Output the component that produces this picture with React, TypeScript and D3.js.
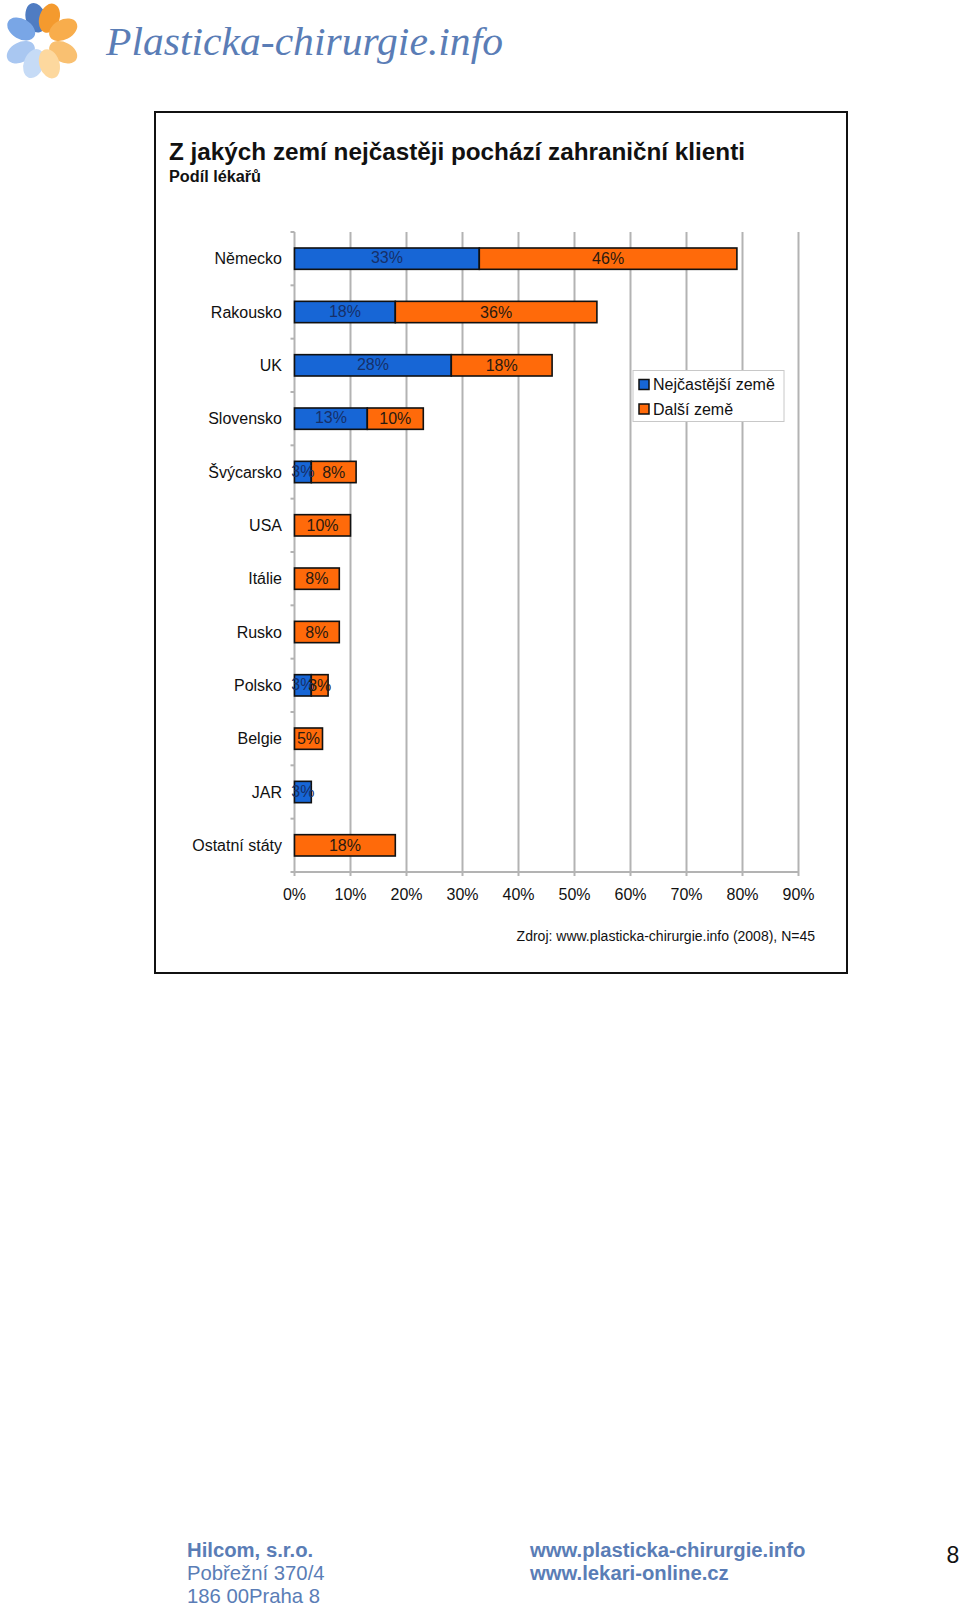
import React from "react";
import * as d3 from "d3";

const categories = ["Německo", "Rakousko", "UK", "Slovensko", "Švýcarsko", "USA", "Itálie", "Rusko", "Polsko", "Belgie", "JAR", "Ostatní státy"];
const nejcastejsi = [33, 18, 28, 13, 3, 0, 0, 0, 3, 0, 3, 0];
const dalsi = [46, 36, 18, 10, 8, 10, 8, 8, 3, 5, 0, 18];
const xTicks = [0, 10, 20, 30, 40, 50, 60, 70, 80, 90];
const seriesNames = ["Nejčastější země", "Další země"];

const BLUE = "#1766d6";
const ORANGE = "#ff6a0a";
const FONT = "'Liberation Sans', Arial, Helvetica, sans-serif";
const LOGO_BLUE = "#5a7db6";

const petals = [
  { a: -105, c: "#4f7cc2" },
  { a: -72, c: "#f49a2e" },
  { a: -150, c: "#79a6e6" },
  { a: -28, c: "#f8ad4c" },
  { a: 152, c: "#a9c7f1" },
  { a: 28, c: "#f9c071" },
  { a: 110, c: "#c6dbf6" },
  { a: 72, c: "#fdd89e" },
];

export default function App() {
  const x = d3.scaleLinear().domain([0, 90]).range([294.5, 798.5]);
  const y = d3.scaleBand<string>().domain(categories).range([232, 872]).paddingInner(0.6).paddingOuter(0.3);
  const step = y.step();
  const bw = y.bandwidth();
  const plotTop = 232;
  const plotBottom = 872;

  return (
    <svg width={960} height={1609} style={{ position: "absolute", left: 0, top: 0, background: "#fff" }}>
      <rect x={0} y={0} width={960} height={1609} fill="#fff" />
      {/* logo */}
      <g transform="translate(42,41)">
        {petals.map((p, i) => (
          <ellipse key={i} cx={0} cy={0} rx={15} ry={10} fill={p.c}
            transform={`rotate(${p.a}) translate(24,0)`} />
        ))}
      </g>
      <text x={106} y={55} fontFamily="'Liberation Serif', 'DejaVu Serif', serif" fontStyle="italic"
        fontSize={40} fill={LOGO_BLUE} textLength={397} lengthAdjust="spacingAndGlyphs">Plasticka-chirurgie.info</text>

      {/* frame */}
      <rect x={155} y={112} width={692} height={861} fill="#fff" stroke="#111" strokeWidth={2} />
      <text x={169} y={160} fontFamily={FONT} fontWeight="bold" fontSize={24} fill="#111"
        textLength={576} lengthAdjust="spacingAndGlyphs">Z jakých zemí nejčastěji pochází zahraniční klienti</text>
      <text x={169} y={182} fontFamily={FONT} fontWeight="bold" fontSize={16} fill="#111"
        textLength={92} lengthAdjust="spacingAndGlyphs">Podíl lékařů</text>

      {/* gridlines */}
      {xTicks.map((t) => (
        <g key={t}>
          <line x1={x(t)} x2={x(t)} y1={plotTop} y2={plotBottom + 4} stroke="#b3b3b3" strokeWidth={2} />
          <text x={x(t)} y={900} textAnchor="middle" fontFamily={FONT} fontSize={16} fill="#111">{t}%</text>
        </g>
      ))}
      <line x1={x(0) - 4} x2={x(90)} y1={plotBottom} y2={plotBottom} stroke="#b3b3b3" strokeWidth={2} />
      {categories.map((c, i) => (
        <line key={"t" + i} x1={x(0) - 4} x2={x(0)} y1={plotTop + i * step} y2={plotTop + i * step} stroke="#b3b3b3" strokeWidth={2} />
      ))}

      {/* bars */}
      {categories.map((c, i) => {
        const y0 = y(c)!;
        const cy = y0 + bw / 2;
        const a = nejcastejsi[i];
        const b = dalsi[i];
        return (
          <g key={c}>
            <text x={282} y={cy} dy="0.35em" textAnchor="end" fontFamily={FONT} fontSize={16} fill="#111">{c}</text>
            {a > 0 && (
              <rect x={x(0)} y={y0} width={x(a) - x(0)} height={bw} fill={BLUE} stroke="#111" strokeWidth={1.6} />
            )}
            {b > 0 && (
              <rect x={x(a)} y={y0} width={x(a + b) - x(a)} height={bw} fill={ORANGE} stroke="#111" strokeWidth={1.6} />
            )}
            {a > 0 && (
              <text x={(x(0) + x(a)) / 2} y={cy - 1} dy="0.35em" textAnchor="middle" fontFamily={FONT} fontSize={16} fill="#16306a">{a}%</text>
            )}
            {b > 0 && (
              <text x={(x(a) + x(a + b)) / 2} y={cy} dy="0.35em" textAnchor="middle" fontFamily={FONT} fontSize={16} fill="#2a1a10">{b}%</text>
            )}
          </g>
        );
      })}

      {/* legend */}
      <rect x={633} y={370.5} width={151} height={51} fill="#fff" stroke="#c8c8c8" strokeWidth={1} />
      {seriesNames.map((s, i) => (
        <g key={s}>
          <rect x={639} y={379.5 + i * 24.5} width={10} height={10} fill={i === 0 ? BLUE : ORANGE} stroke="#111" strokeWidth={1.5} />
          <text x={653} y={390 + i * 24.5} fontFamily={FONT} fontSize={16} fill="#111">{s}</text>
        </g>
      ))}

      <text x={815} y={941} textAnchor="end" fontFamily={FONT} fontSize={14} fill="#111">Zdroj: www.plasticka-chirurgie.info (2008), N=45</text>

      {/* footer */}
      <text x={187} y={1557} fontFamily={FONT} fontWeight="bold" fontSize={20.3} fill={LOGO_BLUE}>Hilcom, s.r.o.</text>
      <text x={187} y={1580} fontFamily={FONT} fontSize={20.3} fill={LOGO_BLUE}>Pobřežní 370/4</text>
      <text x={187} y={1603} fontFamily={FONT} fontSize={20.3} fill={LOGO_BLUE}>186 00Praha 8</text>
      <text x={530} y={1557} fontFamily={FONT} fontWeight="bold" fontSize={20.3} fill={LOGO_BLUE}>www.plasticka-chirurgie.info</text>
      <text x={530} y={1580} fontFamily={FONT} fontWeight="bold" fontSize={20.3} fill={LOGO_BLUE}>www.lekari-online.cz</text>
      <text x={953} y={1563} textAnchor="middle" fontFamily={FONT} fontSize={23} fill="#111">8</text>
    </svg>
  );
}
